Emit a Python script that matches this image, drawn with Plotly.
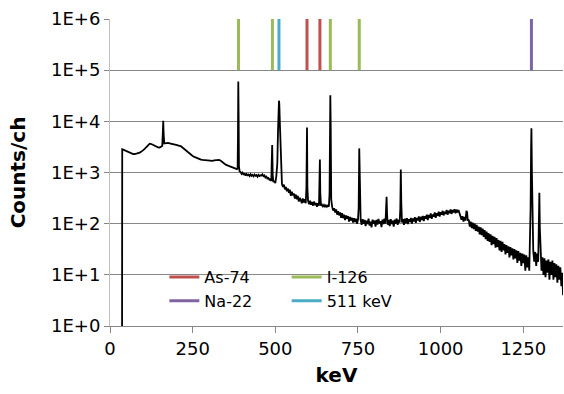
import plotly.graph_objects as go

# ---------------- data ----------------
energy_kev = [
    36.5, 37, 40, 45, 50, 55, 60, 65, 70, 75, 80, 85, 90, 95, 100, 105, 110, 115, 120, 125,
    130, 135, 140, 145, 150, 155, 158, 160, 161, 162, 164, 168, 172, 176, 180, 185, 190, 195,
    200, 205, 210, 215, 220, 225, 230, 235, 240, 245, 250, 255, 260, 265, 270, 275, 280, 285,
    290, 295, 300, 305, 310, 315, 320, 325, 330, 335, 340, 345, 350, 355, 360, 365, 370, 375,
    380, 384, 386, 387, 388, 389, 390, 392,
    395, 398, 401, 404, 407, 410, 413, 416, 419, 422, 425, 428, 431, 434, 437, 440, 443, 446,
    449, 452, 455, 458, 461, 464, 467, 470, 473, 476, 479, 482, 485, 488, 489, 490.5, 492, 494,
    497, 500, 503, 506, 508, 510, 511, 512, 514, 516, 518,
    520, 523, 526, 529, 532, 535, 538, 541, 544, 547, 550, 553, 556, 559, 562, 565, 568, 571,
    574, 577, 580, 583, 586, 589, 592, 594, 595.8, 597, 599,
    602, 605, 608, 611, 614, 617, 620, 623, 626, 629, 632, 633.5, 634.8, 636, 638, 641, 644,
    647, 650, 653, 656, 659, 662, 664, 665.5, 666.3, 667.5,
    669, 672, 675, 678, 681, 684, 687, 690, 693, 696, 699, 702, 705, 708, 711, 714, 717, 720,
    723, 726, 729, 732, 735, 738, 741, 744, 747, 750, 752, 753.8, 756, 758,
    761, 764, 767, 770, 773, 776, 779, 782, 785, 788, 791, 794, 797, 800, 803, 806, 809, 812,
    815, 818, 821, 824, 827, 830, 833, 835, 836.5, 838, 840, 843, 846, 849, 852, 855, 858, 861,
    864, 867, 870, 873, 876, 878, 879.5, 881, 883, 886, 889, 892, 895, 898, 901, 904, 907, 910,
    913, 916, 919, 922, 925, 928, 931, 934, 937, 940, 943, 946, 949, 952, 955, 958, 961, 964,
    967, 970, 973, 976, 979, 982, 985, 988, 991, 994, 997, 1000, 1003, 1006, 1009, 1012, 1015,
    1018, 1021, 1024, 1027, 1030, 1033, 1036, 1039, 1042, 1045, 1048, 1051, 1054, 1057, 1060,
    1063, 1066, 1069, 1072, 1075, 1078, 1080, 1082,
    1085, 1088, 1091, 1094, 1097, 1100, 1103, 1106, 1109, 1112, 1115, 1118, 1121, 1124, 1127,
    1130, 1133, 1136, 1139, 1142, 1145, 1148, 1151, 1154, 1157, 1160, 1163, 1166, 1169, 1172,
    1175, 1178, 1181, 1184, 1187, 1190, 1193, 1196, 1199, 1202, 1205, 1208, 1211, 1214, 1217,
    1220, 1223, 1226, 1229, 1232, 1235, 1238, 1241, 1244, 1247, 1250, 1253, 1256, 1259, 1262,
    1265, 1268, 1270, 1272, 1273.5, 1274.5, 1276, 1278,
    1280, 1283, 1286, 1289, 1292, 1295, 1297, 1298.5, 1300, 1302, 1305, 1308, 1311, 1314, 1317,
    1320, 1323, 1326, 1329, 1332, 1335, 1338, 1341, 1344, 1347, 1350, 1353, 1356, 1359, 1362,
    1365, 1368, 1370,
]

counts = [
    1, 2850, 2800, 2700, 2600, 2500, 2420, 2350, 2300, 2290, 2320, 2380, 2450, 2560, 2700, 2900, 3150, 3400, 3650, 3600,
    3450, 3300, 3200, 3100, 3080, 3150, 3300, 6500, 10200, 6000, 3700, 3750, 3800, 3780, 3720, 3680, 3600, 3550,
    3450, 3380, 3300, 3250, 3050, 2850, 2700, 2500, 2350, 2200, 2100, 2020, 1950, 1880, 1820, 1790, 1760, 1740,
    1730, 1720, 1700, 1710, 1690, 1720, 1750, 1780, 1760, 1700, 1600, 1480, 1420, 1380, 1330, 1300, 1260, 1220,
    1190, 1160, 1200, 5000, 60000, 12000, 1300, 1050,
    1020, 940, 990, 900, 960, 870, 930, 880, 910, 850, 920, 860, 900, 840, 910, 860, 890, 830,
    900, 850, 880, 870, 920, 850, 880, 800, 830, 760, 780, 720, 740, 680, 1500, 3450, 900, 650,
    690, 620, 850, 1500, 6000, 20000, 25300, 22000, 8000, 2000, 900,
    600, 520, 580, 470, 520, 430, 490, 400, 460, 350, 420, 360, 390, 310, 370, 300, 350, 270,
    320, 290, 250, 310, 260, 300, 250, 500, 7600, 500, 280,
    240, 280, 235, 265, 225, 270, 230, 255, 215, 250, 225, 500, 1800, 400, 225, 235, 218,
    232, 210, 228, 214, 226, 216, 400, 20000, 32300, 8000,
    300, 210, 180, 200, 165, 190, 150, 175, 145, 165, 130, 160, 128, 150, 118, 145, 125, 140,
    110, 135, 115, 130, 105, 128, 108, 125, 100, 120, 200, 2960, 180, 120,
    95, 122, 100, 118, 90, 115, 98, 125, 92, 110, 85, 120, 100, 115, 88, 118, 96, 124,
    100, 112, 86, 120, 98, 125, 100, 200, 335, 150, 95, 118, 90, 122, 98, 115, 88, 120,
    100, 126, 95, 118, 105, 200, 1150, 250, 105, 122, 95, 125, 102, 128, 98, 122, 108, 130,
    100, 126, 110, 134, 104, 130, 115, 138, 108, 136, 118, 142, 112, 140, 125, 150, 118, 148,
    130, 158, 124, 152, 138, 165, 130, 160, 142, 172, 138, 168, 150, 178, 145, 172, 155,
    185, 150, 178, 160, 190, 155, 185, 165, 192, 160, 188, 165, 185, 160, 150,
    120, 140, 110, 135, 115, 178, 165, 115,
    120, 88, 110, 82, 105, 78, 100, 72, 95, 70, 88, 62, 85, 60, 80,
    55, 75, 50, 70, 46, 65, 44, 62, 38, 58, 40, 55, 34, 52, 35,
    48, 30, 46, 28, 44, 30, 40, 25, 38, 27, 36, 22, 35, 24, 33,
    20, 32, 21, 30, 17, 29, 19, 27, 15, 26, 17, 25, 12, 24, 14,
    22, 12, 30, 200, 3000, 7300, 1000, 60,
    30, 18, 28, 15, 26, 18, 60, 400, 80, 24, 12, 22, 10, 21, 9,
    19, 11, 20, 8, 18, 10, 19, 8, 17, 9, 16, 7, 15, 8, 14,
    6, 11, 4,
]

# gamma-line energies (keV) marked at the top of the chart
line_names = ["As-74", "I-126", "Na-22", "511 keV"]
line_energies = {
    "As-74": [595.8, 634.8],
    "I-126": [388.6, 491.2, 666.3, 753.8],
    "Na-22": [1274.5],
    "511 keV": [511.0],
}
line_colors = {"As-74": "#C0504D", "I-126": "#9BBB59", "Na-22": "#8064A2", "511 keV": "#4BACC6"}
line_legend = {"As-74": "legend", "I-126": "legend2", "Na-22": "legend", "511 keV": "legend2"}
marker_low, marker_high = 1e5, 1e6

y_tickvals = [1, 10, 100, 1000, 10000, 100000, 1000000]
y_ticktext = ["1E+0", "1E+1", "1E+2", "1E+3", "1E+4", "1E+5", "1E+6"]
x_tickvals = [0, 250, 500, 750, 1000, 1250]

# ---------------- figure ----------------
fig = go.Figure()

fig.add_trace(go.Scatter(x=energy_kev, y=counts, mode="lines",
                         line=dict(color="black", width=1.8), showlegend=False,
                         hoverinfo="skip"))

for name in line_names:
    xs, ys = [], []
    for e in line_energies[name]:
        xs += [e, e, None]
        ys += [marker_low, marker_high, None]
    fig.add_trace(go.Scatter(x=xs, y=ys, mode="lines", name=name,
                             line=dict(color=line_colors[name], width=3),
                             legend=line_legend[name]))

grid = "#878787"
legend_font = dict(family="DejaVu Sans", size=16, color="black")

fig.update_layout(
    width=564, height=394,
    margin=dict(l=110, r=1, t=19, b=68),
    paper_bgcolor="white", plot_bgcolor="white",
    font=dict(family="DejaVu Sans", size=18, color="black"),
    xaxis=dict(range=[0, 1370], tickvals=x_tickvals, showgrid=False, zeroline=False,
               showline=True, linecolor=grid, linewidth=1,
               ticks="outside", ticklen=6, tickcolor=grid,
               tickfont=dict(family="DejaVu Sans", size=18),
               title=dict(text="<b>keV</b>", font=dict(family="DejaVu Sans", size=20), standoff=10)),
    yaxis=dict(type="log", range=[0, 6], tickvals=y_tickvals, ticktext=y_ticktext,
               showgrid=True, gridcolor=grid, gridwidth=1, zeroline=False,
               showline=True, linecolor="#BFBFBF", linewidth=1,
               ticks="outside", ticklen=5, tickcolor=grid,
               tickfont=dict(family="DejaVu Sans", size=18),
               title=dict(text="<b>Counts/ch</b>", font=dict(family="DejaVu Sans", size=20), standoff=20)),
    legend=dict(x=0.12, y=0.215, xanchor="left", yanchor="top", bgcolor="rgba(0,0,0,0)",
                font=legend_font, orientation="v", tracegroupgap=0),
    legend2=dict(x=0.39, y=0.215, xanchor="left", yanchor="top", bgcolor="rgba(0,0,0,0)",
                 font=legend_font, orientation="v", tracegroupgap=0),
    shapes=[dict(type="rect", xref="paper", yref="paper", x0=0.114, x1=0.645, y0=0.05, y1=0.21,
                 fillcolor="white", line=dict(width=0), layer="between")],
)

fig.write_html("out.html")
